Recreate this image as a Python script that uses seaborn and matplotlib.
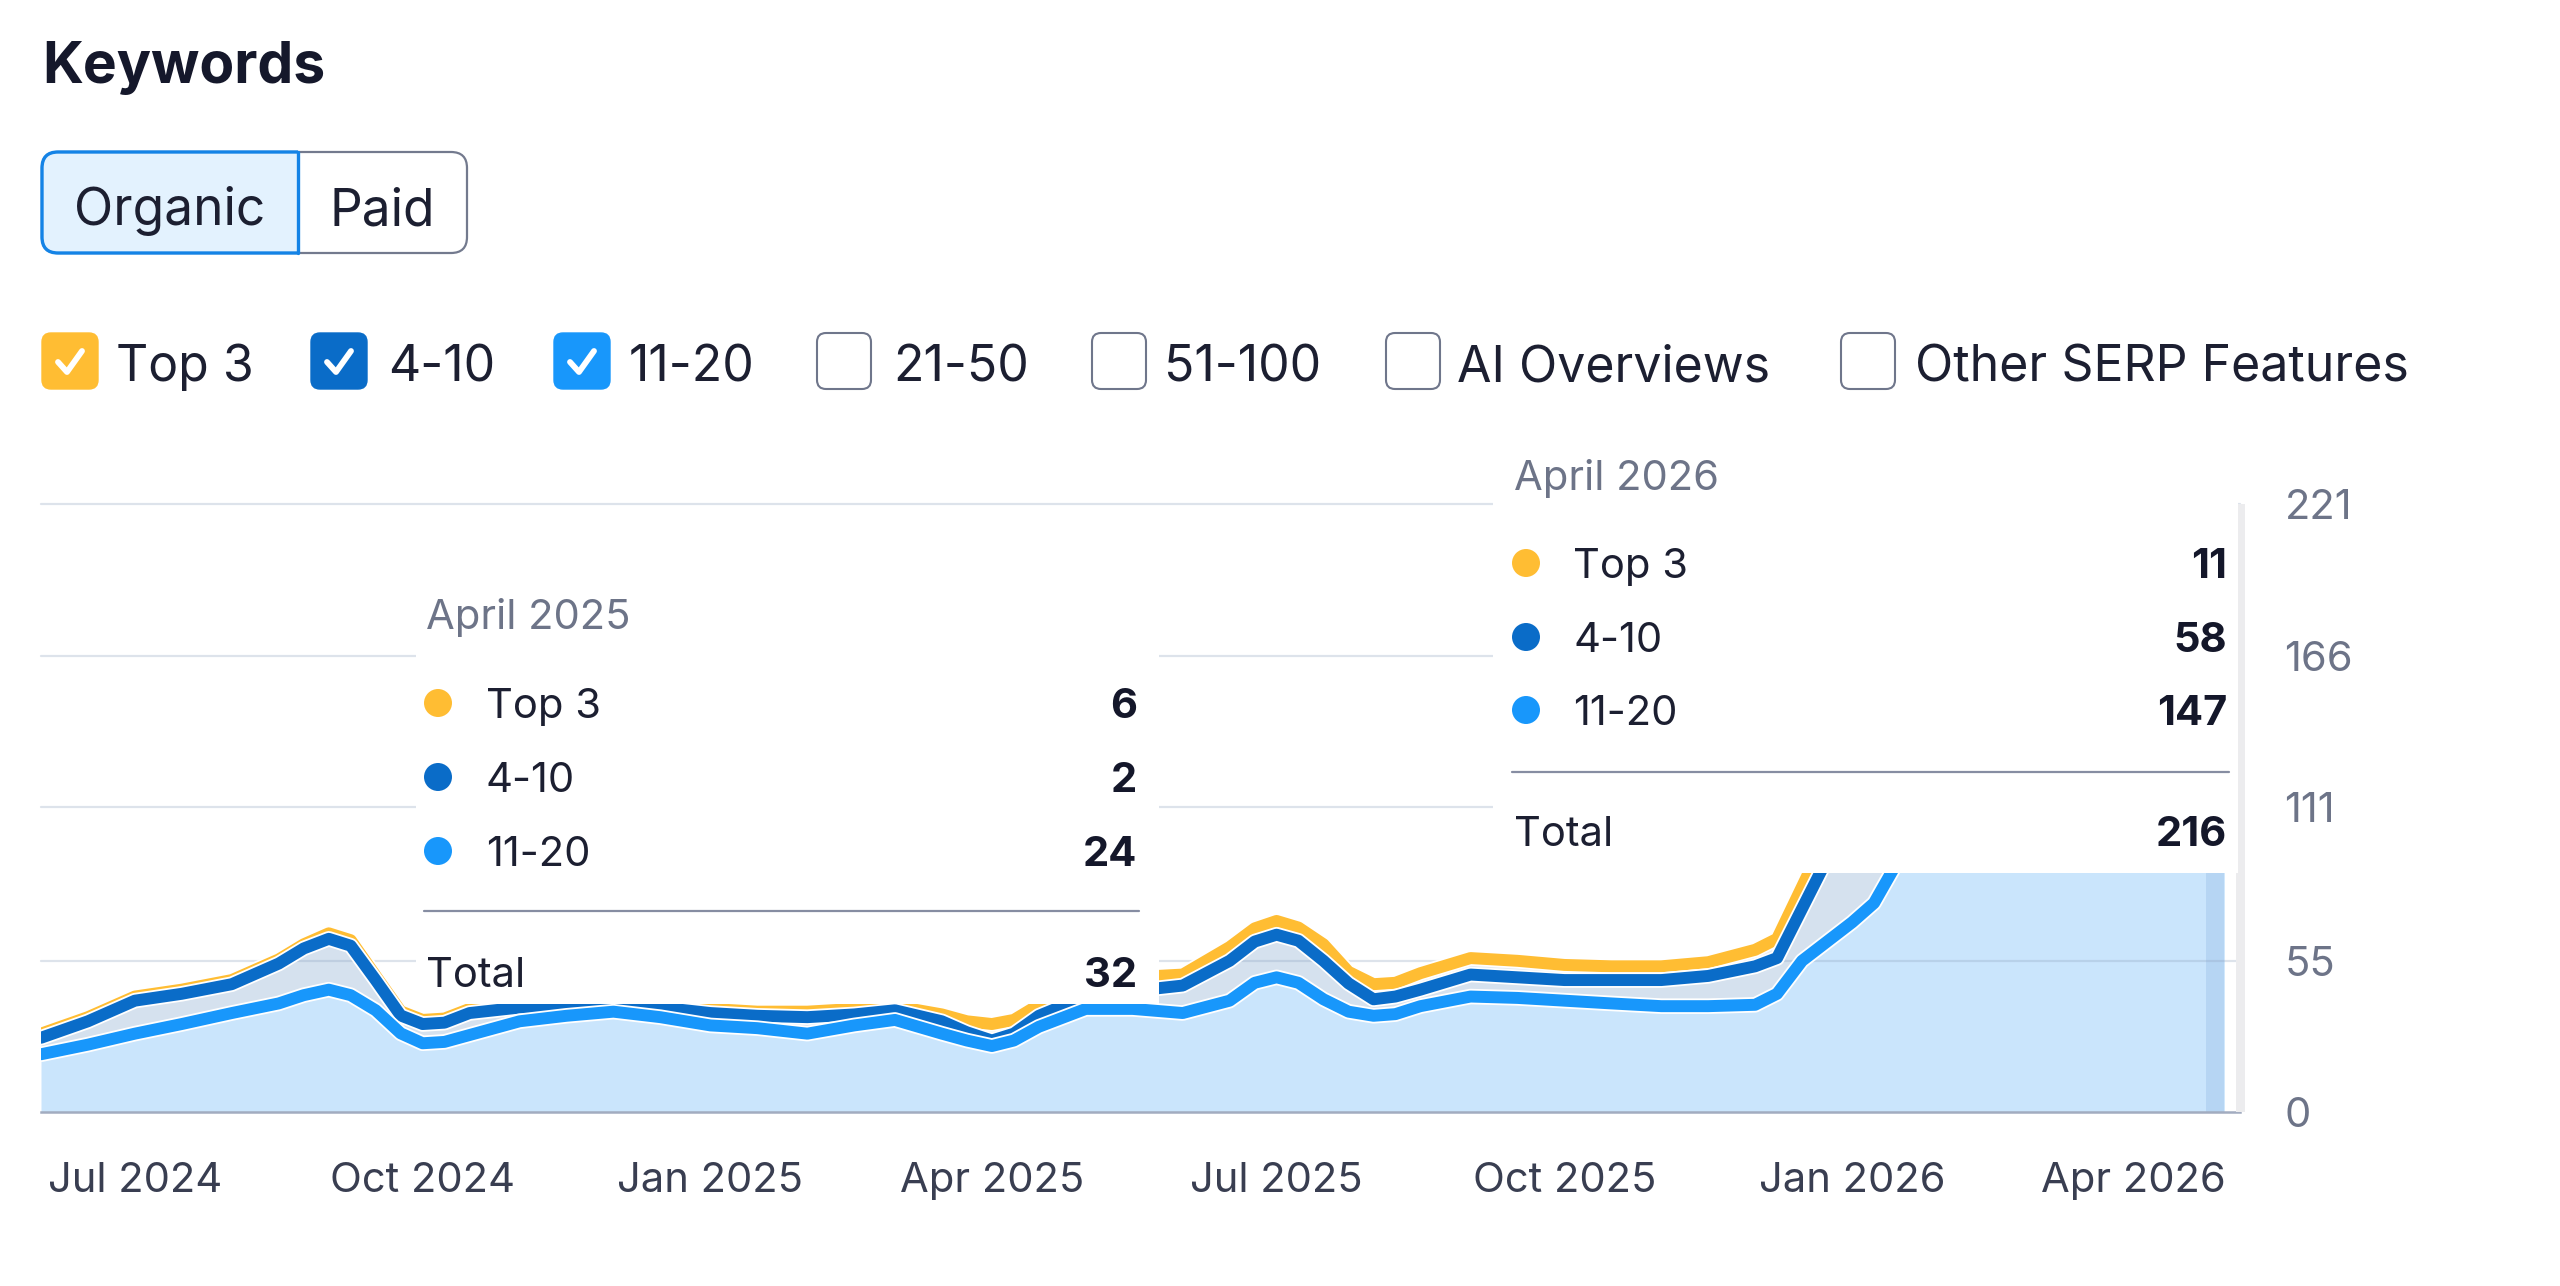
import numpy as np
import pandas as pd
import matplotlib
matplotlib.use("Agg")
import matplotlib.pyplot as plt
import matplotlib.patheffects as pe
from matplotlib.patches import Rectangle, FancyBboxPatch, Circle
from matplotlib.lines import Line2D
from matplotlib.transforms import IdentityTransform
import seaborn as sns

# ---------------- data ----------------
dates = ["2024-06-01", "2024-06-16", "2024-07-01", "2024-07-16", "2024-08-01", "2024-08-16",
         "2024-08-24", "2024-09-01", "2024-09-08", "2024-09-16", "2024-09-24", "2024-10-01",
         "2024-10-08", "2024-10-16", "2024-11-01", "2024-11-16", "2024-12-01", "2024-12-16",
         "2025-01-01", "2025-01-16", "2025-02-01", "2025-02-16", "2025-03-01", "2025-03-16",
         "2025-03-24", "2025-04-01", "2025-04-08", "2025-04-16", "2025-05-01", "2025-05-16",
         "2025-06-01", "2025-06-16", "2025-06-24", "2025-07-01", "2025-07-08", "2025-07-16",
         "2025-07-24", "2025-08-01", "2025-08-08", "2025-08-16", "2025-09-01", "2025-09-16",
         "2025-10-01", "2025-10-16", "2025-11-01", "2025-11-16", "2025-12-01", "2025-12-08",
         "2025-12-16", "2026-01-01", "2026-01-08", "2026-01-16", "2026-02-01", "2026-02-16",
         "2026-03-01", "2026-03-16", "2026-04-01", "2026-04-16", "2026-04-30"]
pos_11_20 = [21, 24.5, 28.5, 32, 36, 39.5,
             42.5, 44.5, 42.5, 37, 28.6, 25,
             25.5, 28, 33, 35, 36.5, 34.5,
             31.5, 30.5, 28.5, 31.5, 33.5, 28.5,
             26, 24, 26, 31, 37.5, 37.5,
             36, 40.5, 47, 49, 47, 41,
             36.5, 35, 35.6, 38.5, 42, 41.5,
             40.5, 39.5, 38.5, 38.5, 39, 43,
             55, 69, 76, 92, 118, 132,
             139, 143, 145, 146, 147]
pos_4_10 = [6, 8.5, 12, 11, 10.5, 14.5,
            17, 18.5, 18, 11, 6.5, 7,
            7, 8, 5, 4, 3, 3.5,
            4.5, 4.5, 6, 4, 3.5, 4.5,
            3, 2, 2.5, 4, 4.5, 6.5,
            10, 14.5, 15, 15.5, 15.3, 14,
            10.3, 6, 6.4, 6, 8, 7.5,
            7.5, 8.5, 9.5, 11, 14, 13,
            19, 41, 49, 48, 52, 53,
            54, 55, 56, 57, 58]
top3 = [1.5, 1.5, 1.5, 1.5, 1.5, 1.5,
        1.5, 2, 2, 1.5, 1.5, 1.5,
        1.5, 1.5, 1.5, 1.5, 1.5, 1.5,
        1.5, 1.5, 2, 2, 1.5, 2.5,
        4, 6, 5, 4, 5, 5,
        4, 5, 4.8, 5, 4.8, 6,
        4.2, 5.5, 5, 6, 6, 6,
        5.5, 5, 5, 5, 6, 7,
        8, 10, 10, 10, 10, 10,
        10, 10, 10, 11, 11]
series_names = ["Top 3", "4-10", "11-20"]
x_ticks = ["2024-07-01", "2024-10-01", "2025-01-01", "2025-04-01",
           "2025-07-01", "2025-10-01", "2026-01-01", "2026-04-01"]
x_tick_labels = ["Jul 2024", "Oct 2024", "Jan 2025", "Apr 2025",
                 "Jul 2025", "Oct 2025", "Jan 2026", "Apr 2026"]
y_ticks = [0, 55, 111, 166, 221]
legend_items = ["Top 3", "4-10", "11-20", "21-50", "51-100", "AI Overviews", "Other SERP Features"]
legend_checked = [True, True, True, False, False, False, False]
tabs = ["Organic", "Paid"]
title = "Keywords"
tooltip_dates = ["2025-04-01", "2026-04-30"]

# ---------------- styling ----------------
YEL = "#ffbd33"
DBL = "#0a6cc8"
BBL = "#1897fb"
INK = "#1c1f31"
GRAY = "#6d7488"

sns.set_theme(style="white")
plt.rcParams["font.family"] = ["Inter", "DejaVu Sans"]

W, H = 2560, 1286
fig = plt.figure(figsize=(W / 100, H / 100), dpi=100)
fig.patch.set_facecolor("white")


def fx(x):
    return x / W


def fy(y):
    return 1 - y / H


ax = fig.add_axes([fx(41), fy(1112), fx(2240) - fx(41), fy(504.5) - fy(1112)])
ax.set_facecolor("white")

df = pd.DataFrame({"date": pd.to_datetime(dates), "Top 3": top3, "4-10": pos_4_10, "11-20": pos_11_20})
df["c1"] = df["11-20"]
df["c2"] = df["c1"] + df["4-10"]
df["c3"] = df["c2"] + df["Top 3"]

# stacked fills
ax.fill_between(df["date"], 0, df["c1"], color="#cae5fc", lw=0, zorder=1)
ax.fill_between(df["date"], df["c1"], df["c2"], color="#d5e1ee", lw=0, zorder=1)
ax.fill_between(df["date"], df["c2"], df["c3"], color="#e6ebf1", lw=0, zorder=1)

# hover column highlight at last point
ax.axvspan(pd.Timestamp("2026-04-24"), df["date"].iloc[-1], color="#a9cbee", alpha=0.6, lw=0, zorder=1.2)

# grid lines
for v in y_ticks[1:]:
    ax.axhline(v, color="#8fa3c0", alpha=0.3, lw=1.6, zorder=1.5, clip_on=False)

# stacked lines
line_specs = [("c3", YEL, 3), ("c2", DBL, 4), ("c1", BBL, 5)]
for col, colr, z in line_specs:
    sns.lineplot(data=df, x="date", y=col, ax=ax, color=colr, lw=8.6, zorder=z,
                 solid_joinstyle="round", solid_capstyle="round")
    ax.lines[-1].set_path_effects([pe.Stroke(linewidth=11.2, foreground="white"), pe.Normal()])

ax.set_xlim(pd.Timestamp("2024-06-01"), pd.Timestamp("2026-05-05"))
ax.set_ylim(0, 221)
ax.set_xlabel("")
ax.set_ylabel("")
ax.set_xticks(pd.to_datetime(x_ticks))
ax.set_xticklabels(x_tick_labels)
ax.yaxis.tick_right()
ax.set_yticks(y_ticks)
ax.set_yticklabels([str(v) for v in y_ticks])
ax.tick_params(axis="x", length=0, pad=36, labelsize=30, labelcolor="#393e51")
ax.tick_params(axis="y", length=0, pad=32, labelsize=30, labelcolor=GRAY)
for s in ["left", "top", "right"]:
    ax.spines[s].set_visible(False)
ax.spines["bottom"].set_color("#a2acc0")
ax.spines["bottom"].set_linewidth(1.8)
ax.spines["bottom"].set_zorder(6)

# ---------------- UI elements in pixel space ----------------
ID = IdentityTransform()


def px_rect(x0, y0, x1, y1, **kw):
    p = Rectangle((x0, H - y1), x1 - x0, y1 - y0, transform=ID, **kw)
    fig.add_artist(p)
    return p


def px_round(x0, y0, x1, y1, r, **kw):
    p = FancyBboxPatch((x0 + r, H - y1 + r), (x1 - x0) - 2 * r, (y1 - y0) - 2 * r,
                       boxstyle=f"round,pad={r}", transform=ID, **kw)
    fig.add_artist(p)
    return p


def px_text(x, y, s, **kw):
    fig.text(fx(x), fy(y), s, **kw)


# title
px_text(42, 83, title, fontsize=41, fontweight="bold", color="#15182b", va="baseline", ha="left")

# tabs
px_round(42, 152, 467, 253, 16, facecolor="white", edgecolor="#737a8e", lw=1.6, zorder=2)
org = px_round(42, 152, 330, 253, 16, facecolor="#e3f2fe", edgecolor="#1483e6", lw=2.4, zorder=3)
clip = Rectangle((0, 0), 298, H, transform=ID)
org.set_clip_path(clip)
fig.add_artist(Line2D([298, 298], [H - 152, H - 253], transform=ID, color="#1483e6", lw=2.4, zorder=4))
px_text(170, 225, tabs[0], fontsize=37, color=INK, va="baseline", ha="center", zorder=5)
px_text(382, 225, tabs[1], fontsize=37, color=INK, va="baseline", ha="center", zorder=5)

# legend checkboxes
box_x = [42, 311, 554, 817, 1092, 1386, 1841]
text_x = [116, 388, 629, 893, 1164, 1457, 1915]
box_colors = [YEL, DBL, BBL, None, None, None, None]
for name, chk, bx, tx, bc in zip(legend_items, legend_checked, box_x, text_x, box_colors):
    if chk:
        px_round(bx, 333, bx + 56, 389, 9, facecolor=bc, edgecolor=bc, lw=1, zorder=3)
        cx, cy = bx, 361
        fig.add_artist(Line2D([cx + 16, cx + 25, cx + 40], [H - (cy + 1), H - (cy + 11), H - (cy - 10)],
                              transform=ID, color="white", lw=4.2, solid_capstyle="round",
                              solid_joinstyle="round", zorder=4))
    else:
        px_round(bx, 333, bx + 54, 389, 9, facecolor="white", edgecolor="#6f768b", lw=1.5, zorder=3)
    px_text(tx, 381, name, fontsize=36, color=INK, va="baseline", ha="left", zorder=5)

# hover strip on right edge
px_rect(2236, 504, 2245, 1112, facecolor="#ececee", lw=0, zorder=1)

# tooltips
dot_colors = [YEL, DBL, BBL]
series_cols = [df["Top 3"], df["4-10"], df["11-20"]]
tips = [
    dict(box=(416, 560, 1159, 1004), x0=426, right=1137, head=629, rows=[703, 777, 851],
         dotx=438, labx=486, div=911, tot=987),
    dict(box=(1493, 430, 2238, 873), x0=1514, right=2227, head=490, rows=[563, 637, 710],
         dotx=1526, labx=1573, div=772, tot=846),
]
for tdate, t in zip(tooltip_dates, tips):
    idx = int(np.flatnonzero(df["date"] == pd.Timestamp(tdate))[0])
    bx0, by0, bx1, by1 = t["box"]
    px_rect(bx0, by0, bx1, by1, facecolor="white", lw=0, zorder=2)
    px_text(t["x0"], t["head"], df["date"].iloc[idx].strftime("%B %Y"), fontsize=30, color=GRAY,
            va="baseline", ha="left", zorder=5)
    total = 0
    for nm, col, colr, ry in zip(series_names, series_cols, dot_colors, t["rows"]):
        val = col.iloc[idx]
        total += val
        fig.add_artist(Circle((t["dotx"], H - ry), 14, transform=ID, facecolor=colr, lw=0, zorder=4))
        px_text(t["labx"], ry + 15, nm, fontsize=30, color=INK, va="baseline", ha="left", zorder=5)
        px_text(t["right"], ry + 15, f"{val:g}", fontsize=30, fontweight="bold", color="#14172a",
                va="baseline", ha="right", zorder=5)
    fig.add_artist(Line2D([t["x0"] - 2, t["right"] + 2], [H - t["div"], H - t["div"]], transform=ID,
                          color="#868da2", lw=1.6, zorder=4))
    px_text(t["x0"], t["tot"], "Total", fontsize=30, color=INK, va="baseline", ha="left", zorder=5)
    px_text(t["right"], t["tot"], f"{total:g}", fontsize=30, fontweight="bold", color="#14172a",
            va="baseline", ha="right", zorder=5)

fig.savefig("out.png", dpi=100, facecolor="white")
